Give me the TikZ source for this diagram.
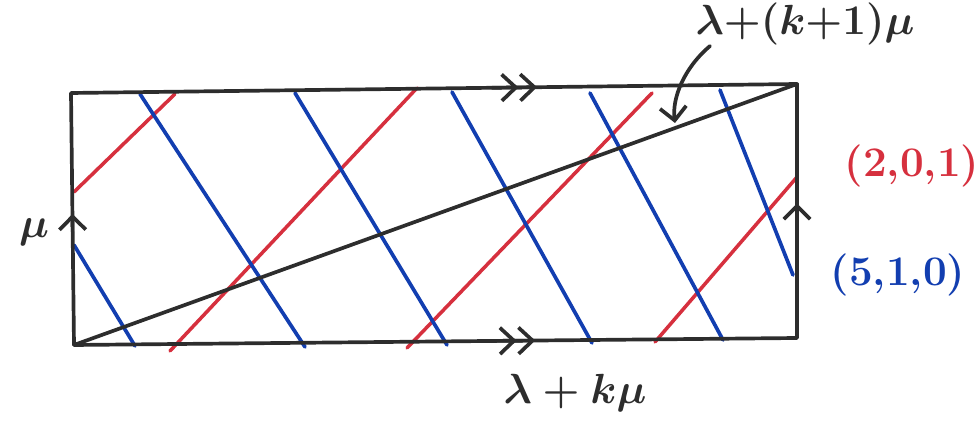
\documentclass[tikz,border=0pt]{standalone}
\usepackage{fix-cm}
\usepackage{tikz}
\usetikzlibrary{arrows.meta, positioning, calc}
\definecolor{inkred}{RGB}{214,48,62}
\definecolor{inkblue}{RGB}{18,62,176}
\definecolor{inkgray}{RGB}{45,45,45}
\tikzset{
    edge_line/.style={draw=inkgray, line width=2.1pt, line cap=round, line join=round},
    red_line/.style={draw=inkred, line width=2pt, line cap=round},
    blue_line/.style={draw=inkblue, line width=2.1pt, line cap=round},
    double_tip/.style={-{Straight Barb[length=8pt,width=15pt] Straight Barb[length=8pt,width=15pt]}},
    single_tip/.style={-{Straight Barb[length=7.5pt,width=15pt]}},
    hand_label/.style={font=\fontsize{24}{28}\selectfont\bfseries\boldmath, inner sep=0pt, text=inkgray}
}

\begin{document}
\begin{tikzpicture}[x=0.02cm, y=-0.02cm]
            \useasboundingbox (0,0) rectangle (979,421);
            % corners of the strip
            \coordinate (tl) at (71,93);
            \coordinate (tr) at (797,84);
            \coordinate (br) at (797,338);
            \coordinate (bl) at (74,345);

            % red curve (2,0,1)
            \draw [red_line] (74,192) -- (175,94);
            \draw [red_line] (170,351) -- (417,88);
            \draw [red_line] (407,348) -- (652,93);
            \draw [red_line] (655,342) -- (797,177);

            % blue curve (5,1,0)
            \draw [blue_line] (74,245) -- (135,346);
            \draw [blue_line] (140,94) -- (305,347);
            \draw [blue_line] (295,93) -- (447,345);
            \draw [blue_line] (452,92) -- (592,343);
            \draw [blue_line] (590,93) -- (723,340);
            \draw [blue_line] (720,90) -- (793,275);

            \draw [edge_line] (tl) -- (tr) -- (br) -- (bl) -- cycle;
            \draw [edge_line] (bl) -- (tr);

            % gluing marks
            \draw [edge_line, double_tip] ($(tl)!0.58!(tr)$) -- ($(tl)!0.642!(tr)$);
            \draw [edge_line, double_tip] ($(bl)!0.58!(br)$) -- ($(bl)!0.638!(br)$);
            \draw [edge_line, single_tip] ($(bl)!0.45!(tl)$) -- ($(bl)!0.52!(tl)$);
            \draw [edge_line, single_tip] ($(br)!0.46!(tr)$) -- ($(br)!0.53!(tr)$);

            \node (lbl_diag) [hand_label] at (805,24) {$\lambda{+}(k{+}1)\mu$};
            \node (lbl_bottom) [hand_label] at (575,393) {$\lambda+k\mu$};
            \node (lbl_mu) [hand_label] at (34,232) {$\mu$};
            \node (lbl_red) [hand_label, text=inkred] at (912,166) {(2,0,1)};
            \node (lbl_blue) [hand_label, text=inkblue] at (898,275) {(5,1,0)};

            \coordinate (pointer_start) at (710,46);
            \coordinate (pointer_end) at (675,123);
            \draw [edge_line, single_tip] (pointer_start) .. controls (684,68) and (672,98) .. (pointer_end);
\end{tikzpicture}
\end{document}
